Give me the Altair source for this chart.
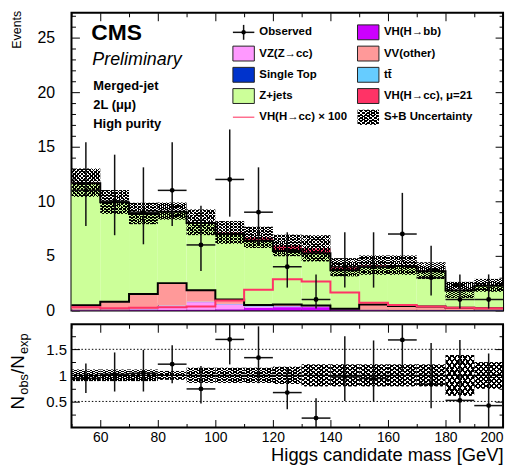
import altair as alt
import pandas as pd

# ---------------- data ----------------
bin_lo = [50, 60, 70, 80, 90, 100, 110, 120, 130, 140, 150, 160, 170, 180, 190]
bin_hi = [60, 70, 80, 90, 100, 110, 120, 130, 140, 150, 160, 170, 180, 190, 200]

vh_bb      = [0.02, 0.02, 0.03, 0.05, 0.06, 0.10, 0.25, 0.30, 0.30, 0.08, 0.03, 0.02, 0.02, 0.01, 0.01]
vz_cc      = [0.04, 0.05, 0.08, 0.35, 0.70, 0.45, 0.10, 0.06, 0.04, 0.02, 0.02, 0.01, 0.01, 0.01, 0.01]
single_top = [0.01, 0.01, 0.01, 0.02, 0.02, 0.02, 0.02, 0.02, 0.01, 0.01, 0.01, 0.01, 0.01, 0.01, 0.01]
ttbar      = [0.01, 0.02, 0.02, 0.03, 0.03, 0.03, 0.03, 0.02, 0.02, 0.01, 0.01, 0.01, 0.01, 0.01, 0.01]
vv_other   = [0.40, 0.70, 1.36, 2.05, 1.04, 0.40, 0.10, 0.15, 0.08, 0.03, 0.48, 0.35, 0.30, 0.21, 0.16]
z_jets     = [11.17, 9.10, 7.33, 6.54, 6.15, 6.00, 5.89, 4.90, 4.79, 3.53, 3.48, 3.67, 3.23, 1.58, 2.06]
vh_cc_mu21 = [0.05, 0.04, 0.05, 0.06, 0.07, 0.15, 0.30, 0.50, 0.45, 0.28, 0.12, 0.08, 0.06, 0.05, 0.04]
vh_cc_x100 = [0.30, 0.20, 0.25, 0.30, 0.35, 0.90, 1.90, 2.85, 2.65, 1.65, 0.70, 0.50, 0.35, 0.25, 0.20]
unc_rel    = [0.11, 0.11, 0.11, 0.085, 0.145, 0.145, 0.145, 0.165, 0.21, 0.21, 0.21, 0.21, 0.21, 0.39, 0.255]

observed = [11, 10, 9, 11, 6, 12, 9, 4, 1, 4, 4, 7, 3, 1, 1]
obs_lo   = [7.74, 6.89, 6.06, 7.74, 3.62, 8.59, 6.06, 2.09, 0.17, 2.09, 2.09, 4.42, 1.37, 0.17, 0.17]
obs_hi   = [15.42, 14.27, 13.11, 15.42, 9.58, 16.58, 13.11, 7.16, 3.30, 7.16, 7.16, 10.77, 5.92, 3.30, 3.30]

ratio    = [0.94, 1.02, 1.04, 1.215, 0.74, 1.69, 1.34, 0.67, 0.18, 0.97, 0.94, 1.68, 0.83, 0.52, 0.42]
ratio_lo = [0.66, 0.69, 0.69, 0.85, 0.46, 1.21, 0.85, 0.35, 0.0, 0.51, 0.50, 1.07, 0.37, 0.09, 0.0]
ratio_hi = [1.23, 1.44, 1.49, 1.58, 1.18, 1.98, 1.94, 1.16, 0.56, 1.75, 1.67, 1.98, 1.62, 1.68, 1.42]
ratio_guides = [0.5, 1.5]

components = ["VH(H→bb)", "VZ(Z→cc)", "Single Top", "tt̄", "VV(other)", "Z+jets", "VH(H→cc), μ=21"]
comp_values = [vh_bb, vz_cc, single_top, ttbar, vv_other, z_jets, vh_cc_mu21]
comp_colors = ["#cc00ff", "#ff99ff", "#0033cc", "#66ccff", "#ff9999", "#ccff99", "#ff3366"]

x_ticks = [50, 60, 70, 80, 90, 100, 110, 120, 130, 140, 150, 160, 170, 180, 190, 200]
y_ticks = list(range(0, 28))
r_ticks = [0.25, 0.5, 0.75, 1.0, 1.25, 1.5, 1.75]

# ---------------- derived tables ----------------
nb = len(bin_lo)
cum = [0.0] * nb
stack_rows = []
tops = {}
for name, vals in zip(components, comp_values):
    for i in range(nb):
        stack_rows.append(dict(lo=bin_lo[i], hi=bin_hi[i], y0=cum[i], y1=cum[i] + vals[i], comp=name))
        cum[i] += vals[i]
    tops[name] = list(cum)
stack_df = pd.DataFrame(stack_rows)
total = tops[components[-1]]

edges = bin_lo + [bin_hi[-1]]
line_rows = []
for key in ["VV(other)", "Z+jets"]:
    v = tops[key]
    for xe, ye in zip(edges, v + [v[-1]]):
        line_rows.append(dict(x=xe, y=ye, s=key))
outline_df = pd.DataFrame(line_rows)
sig_df = pd.DataFrame(dict(x=edges, y=vh_cc_x100 + [vh_cc_x100[-1]]))

band_df = pd.DataFrame(dict(lo=bin_lo, hi=bin_hi,
                            y0=[t * (1 - u) for t, u in zip(total, unc_rel)],
                            y1=[t * (1 + u) for t, u in zip(total, unc_rel)],
                            r0=[1 - u for u in unc_rel], r1=[1 + u for u in unc_rel]))
obs_df = pd.DataFrame(dict(lo=bin_lo, hi=bin_hi, c=[(a + b) / 2 for a, b in zip(bin_lo, bin_hi)],
                           obs=observed, elo=obs_lo, ehi=obs_hi,
                           r=ratio, rlo=ratio_lo, rhi=ratio_hi))
guide_df = pd.DataFrame(dict(g=ratio_guides))
one_df = pd.DataFrame(dict(g=[1.0]))

FONT = "Liberation Sans"
W, H_TOP, H_RAT = 435, 300, 104
xs = alt.Scale(domain=[50, 200], nice=False, zero=False)
ys = alt.Scale(domain=[0, 27.27], nice=False)
rs = alt.Scale(domain=[0, 1.98], nice=False)


def stripes(x1, y1, x2, y2, n, duty):
    stops = []
    clear = "rgba(255,255,255,0)"
    for i in range(n):
        a, b, c = i / n, (i + duty) / n, (i + 1) / n
        stops += [{"offset": a, "color": "#000000"}, {"offset": b, "color": "#000000"},
                  {"offset": b, "color": clear}, {"offset": c, "color": clear}]
    return {"gradient": "linear", "x1": x1, "y1": y1, "x2": x2, "y2": y2, "stops": stops}


def tick_axis(orient, values, minor_test, labels=False, title=None, **kw):
    extra = dict(kw)
    extra["title"] = title
    return alt.Axis(orient=orient, values=values, offset=-8, tickSize=8, domain=False, grid=False,
                    labels=labels, tickColor="black", tickWidth=1,
                    tickDash={"condition": {"test": minor_test, "value": [0, 4, 4, 100]}, "value": [8, 0]},
                    **extra)


X_MINOR = "datum.value % 20 !== 0"
Y_MINOR = "datum.value % 5 !== 0"
R_MINOR = "datum.value % 0.5 !== 0"

# ---------------- top panel ----------------
stack = alt.Chart(stack_df).mark_rect(stroke=None).encode(
    x=alt.X("lo:Q", scale=xs, axis=tick_axis("bottom", x_ticks, X_MINOR)),
    x2="hi:Q",
    y=alt.Y("y0:Q", scale=ys, axis=tick_axis("left", y_ticks, Y_MINOR, labels=True,
                                             labelExpr="datum.value % 5 === 0 ? datum.label : ''",
                                             labelFontSize=16, labelPadding=17, labelFont=FONT)),
    y2="y1:Q",
    color=alt.Color("comp:N", scale=alt.Scale(domain=components, range=comp_colors), legend=None),
)

outlines = alt.Chart(outline_df).mark_line(interpolate="step-after", color="black", strokeWidth=2).encode(
    x=alt.X("x:Q", scale=xs, axis=None), y=alt.Y("y:Q", scale=ys, axis=None), detail="s:N")

sig_line = alt.Chart(sig_df).mark_line(interpolate="step-after", color="#ff3366", strokeWidth=2).encode(
    x=alt.X("x:Q", scale=xs, axis=None), y=alt.Y("y:Q", scale=ys, axis=None))

hatch_a = alt.Chart(band_df).mark_rect(fill=stripes(0, 0, 1, 1, 15, 0.4), stroke=None).encode(
    x=alt.X("lo:Q", scale=xs, axis=None), x2="hi:Q", y=alt.Y("y0:Q", scale=ys, axis=None), y2="y1:Q")
hatch_b = alt.Chart(band_df).mark_rect(fill=stripes(1, 0, 0, 1, 15, 0.4), stroke=None).encode(
    x=alt.X("lo:Q", scale=xs, axis=None), x2="hi:Q", y=alt.Y("y0:Q", scale=ys, axis=None), y2="y1:Q")

ebar_v = alt.Chart(obs_df).mark_rule(color="#111111", strokeWidth=1.5).encode(
    x=alt.X("c:Q", scale=xs, axis=None), y=alt.Y("elo:Q", scale=ys, axis=None), y2="ehi:Q")
ebar_h = alt.Chart(obs_df).mark_rule(color="#111111", strokeWidth=1.5).encode(
    x=alt.X("lo:Q", scale=xs, axis=None), x2="hi:Q", y=alt.Y("obs:Q", scale=ys, axis=None))
pts = alt.Chart(obs_df).mark_point(filled=True, color="black", size=24, opacity=1, shape="circle").encode(
    x=alt.X("c:Q", scale=xs, axis=tick_axis("top", x_ticks, X_MINOR)),
    y=alt.Y("obs:Q", scale=ys, axis=tick_axis("right", y_ticks, Y_MINOR)))


def label(text, x, y, size, weight="normal", style="normal", angle=0, align="left"):
    return alt.Chart(pd.DataFrame(dict(t=[text]))).mark_text(
        font=FONT, fontSize=size, fontWeight=weight, fontStyle=style, angle=angle,
        align=align, baseline="alphabetic", color="black").encode(
        text="t:N", x=alt.value(x), y=alt.value(y))


texts_top = [
    label("CMS", 20, 27, 23, weight="bold"),
    label("Preliminary", 21, 53, 18, style="italic"),
    label("Merged-jet", 22, 77.5, 13, weight="bold"),
    label("2L (μμ)", 22, 97, 13, weight="bold"),
    label("High purity", 22, 116.5, 13, weight="bold"),
    label("Events", -51, -2, 12.5, angle=270, align="right"),
]

# legend
leg_labels = ["Observed", "VH(H→bb)", "VZ(Z→cc)", "VV(other)", "Single Top", "tt̄",
              "Z+jets", "VH(H→cc), μ=21", "VH(H→cc) × 100", "S+B Uncertainty"]
leg_fill = {"VH(H→bb)": "#cc00ff", "VZ(Z→cc)": "#ff99ff", "VV(other)": "#ff9999",
            "Single Top": "#0033cc", "tt̄": "#66ccff", "Z+jets": "#ccff99",
            "VH(H→cc), μ=21": "#ff3366"}
ROW0, ROWD = 19.7, 21.4
SW_X = [162.7, 288.3]
SW_W, SW_H = 21.6, 15
TX_X = [189.3, 315.0]
leg_rows = []
for i, lab in enumerate(leg_labels):
    r, c = i // 2, i % 2
    yc = ROW0 + ROWD * r
    leg_rows.append(dict(lab=lab, tx=TX_X[c], ty=yc, sx0=SW_X[c], sx1=SW_X[c] + SW_W,
                         sy0=yc - SW_H / 2, sy1=yc + SW_H / 2, cx=SW_X[c] + SW_W / 2,
                         col=leg_fill.get(lab, "none")))
leg_df = pd.DataFrame(leg_rows)
nos = dict(scale=None)
leg_text = alt.Chart(leg_df).mark_text(font=FONT, fontSize=11.5, fontWeight="bold", align="left",
                                        baseline="middle", color="black").encode(
    x=alt.X("tx:Q", **nos, axis=None), y=alt.Y("ty:Q", **nos, axis=None), text="lab:N")
fill_df = leg_df[leg_df["col"] != "none"]
leg_sw = alt.Chart(fill_df).mark_rect(stroke="#222222", strokeWidth=1).encode(
    x=alt.X("sx0:Q", **nos, axis=None), x2="sx1:Q", y=alt.Y("sy0:Q", **nos, axis=None), y2="sy1:Q",
    color=alt.Color("col:N", scale=None, legend=None))
obs_leg = leg_df[leg_df["lab"] == "Observed"]
leg_obs_h = alt.Chart(obs_leg).mark_rule(color="#111111", strokeWidth=1.5).encode(
    x=alt.X("sx0:Q", **nos, axis=None), x2="sx1:Q", y=alt.Y("ty:Q", **nos, axis=None))
leg_obs_v = alt.Chart(obs_leg).mark_rule(color="#111111", strokeWidth=1.5).encode(
    x=alt.X("cx:Q", **nos, axis=None), y=alt.Y("sy0:Q", **nos, axis=None), y2="sy1:Q")
leg_obs_p = alt.Chart(obs_leg).mark_point(filled=True, color="black", size=20, opacity=1).encode(
    x=alt.X("cx:Q", **nos, axis=None), y=alt.Y("ty:Q", **nos, axis=None))
sig_leg = leg_df[leg_df["lab"] == "VH(H→cc) × 100"]
leg_sig = alt.Chart(sig_leg).mark_rule(color="#ff6f8f", strokeWidth=1.5).encode(
    x=alt.X("sx0:Q", **nos, axis=None), x2="sx1:Q", y=alt.Y("ty:Q", **nos, axis=None))
unc_leg = leg_df[leg_df["lab"] == "S+B Uncertainty"]
leg_unc_a = alt.Chart(unc_leg).mark_rect(fill=stripes(0, 0, 1, 1, 9, 0.4), stroke=None).encode(
    x=alt.X("sx0:Q", **nos, axis=None), x2="sx1:Q", y=alt.Y("sy0:Q", **nos, axis=None), y2="sy1:Q")
leg_unc_b = alt.Chart(unc_leg).mark_rect(fill=stripes(1, 0, 0, 1, 9, 0.4), stroke=None).encode(
    x=alt.X("sx0:Q", **nos, axis=None), x2="sx1:Q", y=alt.Y("sy0:Q", **nos, axis=None), y2="sy1:Q")

top = alt.layer(stack, outlines, sig_line, hatch_a, hatch_b, ebar_v, ebar_h, pts,
                leg_sw, leg_unc_a, leg_unc_b, leg_obs_h, leg_obs_v, leg_obs_p, leg_sig, leg_text,
                *texts_top).resolve_axis(x="independent", y="independent").properties(width=W, height=H_TOP)

# ---------------- ratio panel ----------------
rband_a = alt.Chart(band_df).mark_rect(fill=stripes(0, 0, 1, 1, 11, 0.4), stroke=None).encode(
    x=alt.X("lo:Q", scale=xs, axis=tick_axis("bottom", x_ticks, X_MINOR, labels=True,
                                             labelExpr="datum.value % 20 === 0 ? datum.label : ''",
                                             labelFontSize=14, labelPadding=3, labelFlush=True,
                                             labelFont=FONT,
                                             title="Higgs candidate mass [GeV]")),
    x2="hi:Q",
    y=alt.Y("r0:Q", scale=rs, axis=tick_axis("left", r_ticks, R_MINOR, labels=True, format="~g",
                                             labelExpr="datum.value % 0.5 === 0 ? datum.label : ''",
                                             labelFontSize=15, labelPadding=5, labelFont=FONT)),
    y2="r1:Q")
rband_b = alt.Chart(band_df).mark_rect(fill=stripes(1, 0, 0, 1, 11, 0.4), stroke=None).encode(
    x=alt.X("lo:Q", scale=xs, axis=None), x2="hi:Q", y=alt.Y("r0:Q", scale=rs, axis=None), y2="r1:Q")
one_line = alt.Chart(one_df).mark_rule(color="black", strokeWidth=1.5).encode(
    y=alt.Y("g:Q", scale=rs, axis=None))
guides = alt.Chart(guide_df).mark_rule(color="black", strokeWidth=1, strokeDash=[1.5, 2]).encode(
    y=alt.Y("g:Q", scale=rs, axis=None))
rbar_v = alt.Chart(obs_df).mark_rule(color="#111111", strokeWidth=1.5).encode(
    x=alt.X("c:Q", scale=xs, axis=None), y=alt.Y("rlo:Q", scale=rs, axis=None), y2="rhi:Q")
rbar_h = alt.Chart(obs_df).mark_rule(color="#111111", strokeWidth=1.5).encode(
    x=alt.X("lo:Q", scale=xs, axis=None), x2="hi:Q", y=alt.Y("r:Q", scale=rs, axis=None))
rpts = alt.Chart(obs_df).mark_point(filled=True, color="black", size=24, opacity=1).encode(
    x=alt.X("c:Q", scale=xs, axis=tick_axis("top", x_ticks, X_MINOR)),
    y=alt.Y("r:Q", scale=rs, axis=tick_axis("right", r_ticks, R_MINOR)))

texts_rat = [
    label("N", -48, 86, 19, angle=270),
    label("obs", -44, 71, 13, angle=270),
    label("/N", -48, 50, 19, angle=270),
    label("exp", -44, 30, 13, angle=270),
]

bottom = alt.layer(rband_a, rband_b, one_line, guides, rbar_v, rbar_h, rpts, *texts_rat).resolve_axis(
    x="independent", y="independent").properties(width=W, height=H_RAT)

# the "0" label of the upper panel hangs ~9px below its frame, so the concat spacing is
# reduced to keep the two frames 12px apart as in the reference
chart = alt.vconcat(top, bottom, spacing=3).properties(
    padding={"left": 0, "top": 0, "right": 0, "bottom": 0}
).configure_view(stroke="black", strokeWidth=2).configure_axis(
    labelFont=FONT, titleFont=FONT, labelColor="black", titleColor="black",
    titleFontSize=18.5, titleFontWeight="normal", titleAnchor="end", titlePadding=1)

chart.save("out.html", embed_options={"renderer": "svg", "actions": False})
